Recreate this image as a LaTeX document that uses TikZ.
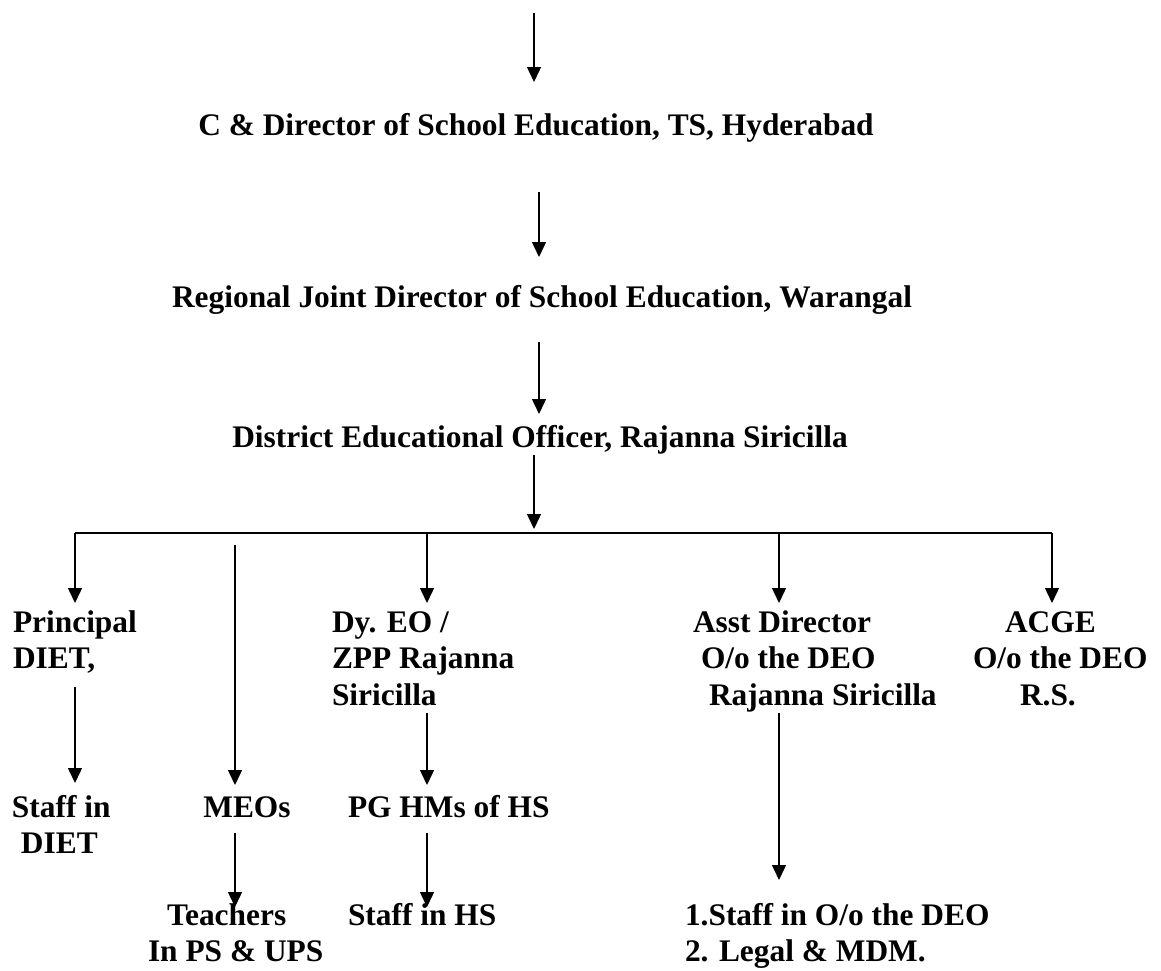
\documentclass[tikz,border=0pt]{standalone}
\usepackage{fontspec}
\setmainfont{Liberation Serif}
\usetikzlibrary{arrows.meta}
\newcommand{\mystrut}{\rule{0pt}{24pt}}
\begin{document}
\begin{tikzpicture}[x=1pt,y=-1pt,
  lbl/.style={inner sep=0pt, outer sep=0pt, font=\fontsize{31.4}{36.5}\selectfont\bfseries},
  arr/.style={line width=1.4pt, -{Triangle[width=14pt,length=15pt]}},
  ln/.style={line width=1.4pt}]
\useasboundingbox[fill=white] (0,0) rectangle (1161,970);

% text nodes
\node[lbl, anchor=north] (cd) at (536,111) {\mystrut C \& Director of School Education, TS, Hyderabad};
\node[lbl, anchor=north] (rj) at (542,283) {\mystrut Regional Joint Director of School Education, Warangal};
\node[lbl, anchor=north] (deo) at (540,423) {\mystrut District Educational Officer, Rajanna Siricilla};

\node[lbl, anchor=north west, align=left] (prin) at (13,608) {\mystrut Principal\\DIET,};
\node[lbl, anchor=north west, align=left] (dy) at (332,608) {\mystrut Dy. EO /\\ZPP Rajanna\\Siricilla};
\node[lbl, anchor=north west, align=left] (asst) at (693,608) {\mystrut Asst Director\\\hspace*{8pt}O/o the DEO\\\hspace*{16pt}Rajanna Siricilla};
\node[lbl, anchor=north west, align=left] (acge) at (973,608) {\mystrut\hspace*{32pt}ACGE\\O/o the DEO\\\hspace*{47pt}R.S.};

\node[lbl, anchor=north west, align=left] (sdiet) at (12,793) {\mystrut Staff in\\\hspace*{9pt}DIET};
\node[lbl, anchor=north] (meos) at (247,793) {\mystrut MEOs};
\node[lbl, anchor=north west] (pg) at (348,793) {\mystrut PG HMs of HS};

\node[lbl, anchor=north west, align=left] (teach) at (148,901) {\mystrut\hspace*{19pt}Teachers\\In PS \& UPS};
\node[lbl, anchor=north west] (shs) at (348,901) {\mystrut Staff in HS};
\node[lbl, anchor=north west, align=left] (sdeo) at (685,901) {\mystrut 1.Staff in O/o the DEO\\2. Legal \& MDM.};

% connector end points
\coordinate (top) at (534,13);
\coordinate (a1e) at (534,82);
\coordinate (a2s) at (539,192);
\coordinate (a2e) at (539,257);
\coordinate (a3s) at (539,342);
\coordinate (a3e) at (539,414);
\coordinate (a4s) at (534,455);
\coordinate (a4e) at (534,529);
\coordinate (busL) at (75,533);
\coordinate (busD) at (427,533);
\coordinate (busA) at (779,533);
\coordinate (busR) at (1052,533);
\coordinate (prinT) at (75,603);
\coordinate (dyT) at (427,603);
\coordinate (asstT) at (779,603);
\coordinate (acgeT) at (1052,603);
\coordinate (meoS) at (235,545);
\coordinate (meoE) at (235,785);
\coordinate (prinB) at (75,687);
\coordinate (sdietT) at (75,783);
\coordinate (dyB) at (427,713);
\coordinate (pgT) at (427,785);
\coordinate (asstB) at (779,713);
\coordinate (sdeoT) at (779,880);
\coordinate (meosB) at (235,833);
\coordinate (teachT) at (235,907);
\coordinate (pgB) at (427,833);
\coordinate (shsT) at (427,907);

% connectors
\draw[arr] (top) -- (a1e);
\draw[arr] (a2s) -- (a2e);
\draw[arr] (a3s) -- (a3e);
\draw[arr] (a4s) -- (a4e);
\draw[ln] (busL) -- (busR);
\draw[arr] (busL) -- (prinT);
\draw[arr] (busD) -- (dyT);
\draw[arr] (busA) -- (asstT);
\draw[arr] (busR) -- (acgeT);
\draw[arr] (meoS) -- (meoE);
\draw[arr] (prinB) -- (sdietT);
\draw[arr] (dyB) -- (pgT);
\draw[arr] (asstB) -- (sdeoT);
\draw[arr] (meosB) -- (teachT);
\draw[arr] (pgB) -- (shsT);
\end{tikzpicture}
\end{document}
